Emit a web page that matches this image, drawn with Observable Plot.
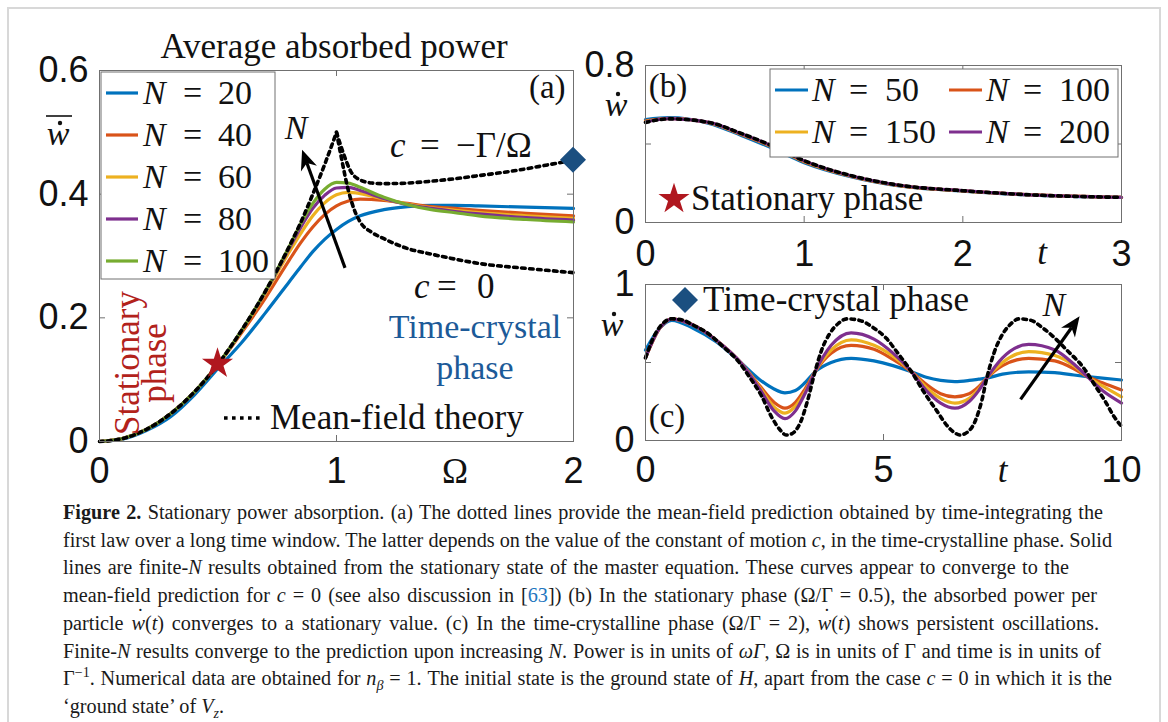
<!DOCTYPE html>
<html><head><meta charset="utf-8">
<script src="https://cdn.jsdelivr.net/npm/d3@7"></script>
<script src="https://cdn.jsdelivr.net/npm/@observablehq/plot@0.6"></script>
<style>
html,body{margin:0;padding:0;background:#fff;width:1168px;height:722px;overflow:hidden;}
#fig{position:relative;width:1168px;height:722px;overflow:hidden;}
#fig svg{position:absolute;left:0;top:0;}
#border{position:absolute;left:7px;top:7px;width:1150px;height:760px;border:2px solid #d8d8d8;}
#caption{position:absolute;left:63px;top:499px;font-family:'Liberation Serif','Times New Roman',serif;font-size:19.5px;line-height:27.7px;white-space:nowrap;color:#1a1a1a;}
#caption sup,#caption sub{line-height:0;font-size:0.7em;}
#caption .ref{color:#1f77c0;}
.ln{display:block;}
.wd{position:relative;}
.wd::after{content:"\02D9";position:absolute;left:0.28em;top:-0.42em;font-style:normal;}
</style></head><body>
<div id="fig"><div id="border"></div>
<div id="caption">
<div class="ln" data-t="1103"><b>Figure 2.</b> Stationary power absorption. (a) The dotted lines provide the mean-field prediction obtained by time-integrating the</div>
<div class="ln" data-t="1112" id="ref2">first law over a long time window. The latter depends on the value of the constant of motion <i>c</i>, in the time-crystalline phase. Solid</div>
<div class="ln" data-t="1069">lines are finite-<i>N</i> results obtained from the stationary state of the master equation. These curves appear to converge to the</div>
<div class="ln" data-t="1097">mean-field prediction for <i>c</i> = 0 (see also discussion in [<span class="ref">63</span>]) (b) In the stationary phase (Ω/Γ = 0.5), the absorbed power per</div>
<div class="ln" data-t="1099">particle <i class="wd">w</i>(<i>t</i>) converges to a stationary value. (c) In the time-crystalline phase (Ω/Γ = 2), <i class="wd">w</i>(<i>t</i>) shows persistent oscillations.</div>
<div class="ln" data-t="1101">Finite-<i>N</i> results converge to the prediction upon increasing <i>N</i>. Power is in units of <i>ωΓ</i>, Ω is in units of Γ and time is in units of</div>
<div class="ln" data-t="1112">Γ<sup>−1</sup>. Numerical data are obtained for <i>n</i><sub><i>β</i></sub> = 1. The initial state is the ground state of <i>H</i>, apart from the case <i>c</i> = 0 in which it is the</div>
<div class="ln">‘ground state’ of <i>V</i><sub><i>z</i></sub>.</div>
</div>
</div>
<script>
// ================= DATA =================
// Panel (a): average absorbed power vs Omega
const omegaGrid = [0,0.1,0.2,0.3,0.4,0.5,0.6,0.7,0.8,0.85,0.9,0.95,1.0,1.05,1.1,1.2,1.3,1.4,1.5,1.6,1.8,2.0];
const wN20  = [0,0.004,0.018,0.04,0.075,0.118,0.16,0.208,0.258,0.283,0.307,0.327,0.343,0.356,0.365,0.375,0.38,0.382,0.382,0.381,0.379,0.377];
const wN40  = [0,0.005,0.02,0.045,0.08,0.124,0.176,0.232,0.293,0.322,0.347,0.367,0.381,0.389,0.392,0.39,0.385,0.38,0.377,0.374,0.369,0.365];
const wN60  = [0,0.005,0.02,0.045,0.08,0.125,0.179,0.24,0.306,0.337,0.365,0.386,0.399,0.403,0.401,0.392,0.384,0.378,0.374,0.37,0.365,0.361];
const wN80  = [0,0.005,0.02,0.045,0.08,0.125,0.18,0.242,0.312,0.347,0.377,0.398,0.41,0.411,0.406,0.393,0.383,0.377,0.372,0.368,0.362,0.358];
const wN100 = [0,0.005,0.02,0.045,0.08,0.125,0.18,0.243,0.315,0.353,0.385,0.408,0.419,0.418,0.411,0.395,0.383,0.375,0.37,0.365,0.359,0.355];
// mean-field: rising part, branch c = -Γ/Ω, branch c = 0
const omegaMF = [0,0.1,0.2,0.3,0.4,0.5,0.6,0.7,0.8,0.85,0.9,0.95,1.0];
const wMF     = [0,0.005,0.02,0.045,0.08,0.125,0.18,0.243,0.315,0.355,0.40,0.448,0.50];
const omegaUp = [1.0,1.03,1.06,1.1,1.15,1.2,1.3,1.4,1.5,1.6,1.7,1.8,1.9,2.0];
const wUp     = [0.50,0.465,0.437,0.423,0.418,0.417,0.418,0.421,0.425,0.43,0.435,0.441,0.448,0.455];
const omegaLow = [1.0,1.02,1.05,1.08,1.1,1.15,1.2,1.3,1.4,1.5,1.6,1.8,2.0];
const wLow     = [0.50,0.46,0.406,0.37,0.355,0.338,0.328,0.312,0.303,0.295,0.288,0.28,0.273];
const legendA = ["20","40","60","80","100"];
const ticksAx = [0,1,2], ticksAy = [0,0.2,0.4,0.6];
const labelsAy = ["0","0.2","0.4","0.6"];

// Panel (b): stationary phase, w-dot(t)
const tGridB = [0,0.15,0.4,0.6,0.8,1.0,1.3,1.6,2.0,2.4,3.0];
const bN50  = [0.525,0.535,0.505,0.445,0.378,0.305,0.232,0.186,0.16,0.141,0.128];
const bN100 = [0.518,0.531,0.508,0.45,0.385,0.31,0.235,0.188,0.161,0.142,0.128];
const bN150 = [0.514,0.53,0.509,0.452,0.387,0.312,0.236,0.189,0.161,0.142,0.128];
const bN200 = [0.512,0.529,0.51,0.454,0.389,0.314,0.237,0.19,0.162,0.142,0.128];
const bMF   = [0.51,0.528,0.51,0.455,0.39,0.315,0.238,0.19,0.162,0.142,0.128];
const legendB = ["50","100","150","200"];
const ticksBx = [0,1,2,3], ticksBy = [0,0.4,0.8];

// Panel (c): time-crystal phase, w-dot(t)
const tGridC = [0,0.3,0.55,1.0,1.5,2.0,2.4,2.7,2.93,3.15,3.35,3.56,3.9,4.32,4.8,5.2,5.59,5.9,6.2,6.5,6.8,7.0,7.17,7.5,8.05,8.6,9.0,9.28,9.6,10];
const cN50  = [0.58,0.72,0.77,0.72,0.63,0.50,0.39,0.33,0.305,0.32,0.37,0.44,0.50,0.527,0.51,0.48,0.44,0.405,0.385,0.378,0.385,0.393,0.40,0.425,0.44,0.435,0.42,0.41,0.40,0.388];
const cN100 = [0.53,0.72,0.78,0.74,0.64,0.50,0.35,0.245,0.207,0.245,0.33,0.44,0.56,0.61,0.585,0.52,0.44,0.36,0.30,0.28,0.30,0.345,0.40,0.48,0.527,0.51,0.46,0.41,0.37,0.324];
const cN150 = [0.53,0.72,0.78,0.74,0.64,0.50,0.34,0.215,0.175,0.22,0.31,0.44,0.58,0.645,0.61,0.54,0.44,0.34,0.27,0.24,0.27,0.33,0.40,0.50,0.57,0.545,0.48,0.41,0.35,0.28];
const cN200 = [0.53,0.72,0.78,0.74,0.64,0.50,0.33,0.19,0.14,0.19,0.30,0.44,0.61,0.69,0.65,0.56,0.44,0.32,0.24,0.207,0.25,0.32,0.40,0.53,0.616,0.58,0.49,0.41,0.32,0.24];
const tMFC = [0,0.2,0.4,0.55,0.8,1.0,1.3,1.6,1.97,2.2,2.43,2.65,2.85,2.95,3.05,3.26,3.4,3.56,3.7,3.86,4.05,4.24,4.5,4.8,5.06,5.3,5.59,5.85,6.12,6.35,6.52,6.61,6.72,6.92,7.06,7.17,7.32,7.48,7.65,7.85,8.1,8.35,8.53,8.85,9.21,9.45,9.66,9.85,10];
const cMF  = [0.53,0.68,0.76,0.78,0.77,0.74,0.69,0.61,0.50,0.40,0.29,0.15,0.06,0.035,0.04,0.12,0.25,0.44,0.58,0.68,0.75,0.78,0.77,0.72,0.655,0.56,0.44,0.31,0.19,0.09,0.045,0.035,0.045,0.12,0.25,0.40,0.56,0.67,0.74,0.78,0.77,0.72,0.676,0.58,0.463,0.35,0.25,0.15,0.09];
const ticksCx = [0,5,10], ticksCy = [0,0.5,1];

// ================= STYLE =================
const SERIF = "'Liberation Serif','Times New Roman',serif";
const SANS = "'Liberation Sans',Arial,Helvetica,sans-serif";
const FRAME = "#707070";
const COLORS = ["#0072BD","#D95319","#EDB120","#7E2F8E","#77AC30"];
const W = 1168, H = 500;
const TICKFS = 36, SERFS = 35;

const xy = (xs, ys) => xs.map((x, i) => ({x, y: ys[i]}));
const solid = (c) => ({x: "x", y: "y", stroke: c, strokeWidth: 3.2, curve: "monotone-x"});
const dotted = {x: "x", y: "y", stroke: "#000", strokeWidth: 3.6, strokeDasharray: "3.6,4.4", curve: "monotone-x"};

function frameMarks(xT, yT, fw, fh) {
  return [
    Plot.frame({stroke: FRAME, strokeWidth: 1}),
    Plot.ruleX(xT, {stroke: FRAME, insetTop: fh - 6}),
    Plot.ruleX(xT, {stroke: FRAME, insetBottom: fh - 6}),
    Plot.ruleY(yT, {stroke: FRAME, insetRight: fw - 6}),
    Plot.ruleY(yT, {stroke: FRAME, insetLeft: fw - 6})
  ];
}
function xLabels(vals, labs, y0, dy) {
  return Plot.text(vals, {x: d => d, y: () => y0, dy, text: (d, i) => labs[i], fontSize: TICKFS, fontFamily: SANS, fill: "#111"});
}
function yLabels(vals, labs, x0, dx) {
  return Plot.text(vals, {x: () => x0, y: d => d, dx, text: (d, i) => labs[i], textAnchor: "end", fontSize: TICKFS, fontFamily: SANS, fill: "#111"});
}
function panel(box, xd, yd, marks) {
  const svg = Plot.plot({
    width: W, height: H,
    marginLeft: box.l, marginRight: W - box.r, marginTop: box.t, marginBottom: H - box.b,
    x: {domain: xd, axis: null}, y: {domain: yd, axis: null},
    style: {background: "transparent", overflow: "visible", fontFamily: SANS},
    marks
  });
  document.getElementById("fig").appendChild(svg);
  return svg;
}
// rich text: parts are [string, italic?, absoluteX?]
function rich(svg, x, y, parts, o = {}) {
  const t = d3.select(svg).append("text")
    .attr("x", x).attr("y", y)
    .attr("font-family", o.family || SERIF).attr("font-size", o.size || SERFS)
    .attr("fill", o.fill || "#111").attr("text-anchor", o.anchor || "start");
  if (o.rotate) t.attr("transform", `rotate(${o.rotate},${x},${y})`);
  for (const p of parts) {
    const s = t.append("tspan").text(p[0]);
    if (p[1]) s.attr("font-style", "italic");
    if (p[2] != null) s.attr("x", p[2]);
  }
  return t;
}
function wdot(svg, x, y, bar) {
  rich(svg, x, y, [["w", true]], {anchor: "middle", size: 34});
  d3.select(svg).append("circle").attr("cx", x + 2).attr("cy", y - 22).attr("r", 2.2).attr("fill", "#111");
  if (bar) d3.select(svg).append("line").attr("x1", x - 12).attr("x2", x + 14).attr("y1", y - 29).attr("y2", y - 29).attr("stroke", "#111").attr("stroke-width", 1.6);
}
function arrow(svg, x1, y1, x2, y2) {
  const g = d3.select(svg).append("g");
  const a = Math.atan2(y2 - y1, x2 - x1), L = 20, Wd = 8.5;
  const bx = x2 - L * Math.cos(a), by = y2 - L * Math.sin(a);
  const nx = x2 - 0.7 * L * Math.cos(a), ny = y2 - 0.7 * L * Math.sin(a);
  g.append("line").attr("x1", x1).attr("y1", y1).attr("x2", nx).attr("y2", ny).attr("stroke", "#000").attr("stroke-width", 3.2);
  const px = -Math.sin(a) * Wd, py = Math.cos(a) * Wd;
  g.append("polygon").attr("points", [[x2, y2], [bx + px, by + py], [nx, ny], [bx - px, by - py]].map(p => p.join(",")).join(" ")).attr("fill", "#000");
}
function star(svg, x, y, size) {
  const g = d3.symbol(d3.symbolStar, size)();
  d3.select(svg).append("path").attr("d", g).attr("transform", `translate(${x},${y})`).attr("fill", "#B0171F");
}
function diamond(svg, x, y, r) {
  d3.select(svg).append("path").attr("d", `M${x},${y - r}L${x + r},${y}L${x},${y + r}L${x - r},${y}Z`).attr("fill", "#1B4F80");
}

// ================= PANEL (a) =================
const A = {l: 99, r: 573, t: 70, b: 441};
const seriesA = [wN20, wN40, wN60, wN80, wN100];
const svgA = panel(A, [0, 2], [0, 0.6], [
  ...seriesA.map((s, i) => Plot.line(xy(omegaGrid, s), solid(COLORS[i]))),
  Plot.line(xy(omegaMF, wMF), dotted),
  Plot.line(xy(omegaUp, wUp), dotted),
  Plot.line(xy(omegaLow, wLow), dotted),
  ...frameMarks(ticksAx, ticksAy, A.r - A.l, A.b - A.t),
  xLabels(ticksAx, ["0", "1", "2"], 0, 30),
  yLabels(ticksAy, labelsAy, 0, -11),
  Plot.text(["Ω"], {x: () => 1.5, y: () => 0, dy: 30, text: d => d, fontSize: SERFS, fontFamily: SERIF, fill: "#111"})
]);
{
  const sx = v => svgA.scale("x").apply(v), sy = v => svgA.scale("y").apply(v);
  const s = d3.select(svgA);
  rich(svgA, 334, 58, [["Average absorbed power"]], {anchor: "middle"});
  // legend
  s.append("rect").attr("x", 101).attr("y", 72).attr("width", 174).attr("height", 207).attr("fill", "#fff").attr("stroke", FRAME);
  legendA.forEach((n, i) => {
    const y = 93 + i * 42;
    s.append("line").attr("x1", 106).attr("x2", 138).attr("y1", y).attr("y2", y).attr("stroke", COLORS[i]).attr("stroke-width", 3.2);
    rich(svgA, 143, y + 11, [["N", true], ["=", false, 183], [n, false, 218]], {size: 34});
  });
  rich(svgA, sx(1.9) - 2, 98, [["(a)"]], {anchor: "middle", size: 33});
  // mean-field legend sample
  s.append("line").attr("x1", 224).attr("x2", 262).attr("y1", 418).attr("y2", 418).attr("stroke", "#000").attr("stroke-width", 3.6).attr("stroke-dasharray", "3.6,4.4");
  rich(svgA, 270, 429, [["Mean-field theory"]]);
  rich(svgA, 390, 157, [["c", true], ["=", false, 420], ["−Γ/Ω", false, 456]]);
  rich(svgA, 414, 298, [["c", true], ["=", false, 437], ["0", false, 477]]);
  rich(svgA, 475, 338, [["Time-crystal"]], {anchor: "middle", fill: "#1C5A98", size: 34});
  rich(svgA, 475, 379, [["phase"]], {anchor: "middle", fill: "#1C5A98", size: 34});
  rich(svgA, 139, 363, [["Stationary"]], {anchor: "middle", fill: "#B2221B", rotate: -90});
  rich(svgA, 166, 363, [["phase"]], {anchor: "middle", fill: "#B2221B", rotate: -90});
  rich(svgA, 296, 139, [["N", true]], {anchor: "middle", size: 34});
  arrow(svgA, sx(1.038), sy(0.28), sx(0.857), sy(0.471));
  star(svgA, sx(0.5), sy(0.125), 300);
  diamond(svgA, sx(2), sy(0.455), 13);
  wdot(svgA, 58, 145, true);
}

// ================= PANEL (b) =================
const B = {l: 645, r: 1121, t: 65, b: 222};
const seriesB = [bN50, bN100, bN150, bN200];
const svgB = panel(B, [0, 3], [0, 0.8], [
  ...seriesB.map((s, i) => Plot.line(xy(tGridB, s), solid(COLORS[i]))),
  Plot.line(xy(tGridB, bMF), dotted),
  ...frameMarks(ticksBx, ticksBy, B.r - B.l, B.b - B.t),
  xLabels(ticksBx, ["0", "1", "2", "3"], 0, 32),
  yLabels([0, 0.8], ["0", "0.8"], 0, -11),
  Plot.text(["t"], {x: () => 2.5, y: () => 0, dy: 30, text: d => d, fontSize: SERFS, fontFamily: SERIF, fontStyle: "italic", fill: "#111"})
]);
{
  const s = d3.select(svgB);
  s.append("rect").attr("x", 770).attr("y", 69).attr("width", 348).attr("height", 88).attr("fill", "#fff").attr("stroke", FRAME);
  legendB.forEach((n, i) => {
    const col = i % 2, row = Math.floor(i / 2);
    const x0 = col ? 949 : 775, y = 90 + row * 42;
    s.append("line").attr("x1", x0).attr("x2", x0 + 33).attr("y1", y).attr("y2", y).attr("stroke", COLORS[i]).attr("stroke-width", 3.2);
    const tx = x0 + 37;
    rich(svgB, tx, y + 11, [["N", true], ["=", false, tx + 37], [n, false, tx + 73]], {size: 34});
  });
  rich(svgB, 668, 97, [["(b)"]], {anchor: "middle", size: 33});
  star(svgB, 674, 199, 300);
  rich(svgB, 691, 210, [["Stationary phase"]]);
  wdot(svgB, 616, 116, false);
}

// ================= PANEL (c) =================
const C = {l: 645, r: 1121, t: 284, b: 440};
const seriesC = [cN50, cN100, cN150, cN200];
const svgC = panel(C, [0, 10], [0, 1], [
  ...seriesC.map((s, i) => Plot.line(xy(tGridC, s), solid(COLORS[i]))),
  Plot.line(xy(tMFC, cMF), dotted),
  ...frameMarks(ticksCx, ticksCy, C.r - C.l, C.b - C.t),
  xLabels(ticksCx, ["0", "5", "10"], 0, 30),
  yLabels([0, 1], ["0", "1"], 0, -11),
  Plot.text(["t"], {x: () => 7.5, y: () => 0, dy: 30, text: d => d, fontSize: SERFS, fontFamily: SERIF, fontStyle: "italic", fill: "#111"})
]);
{
  const sx = v => svgC.scale("x").apply(v), sy = v => svgC.scale("y").apply(v);
  rich(svgC, 667, 427, [["(c)"]], {anchor: "middle", size: 33});
  diamond(svgC, 685, 300, 13);
  rich(svgC, 703, 311, [["Time-crystal phase"]]);
  rich(svgC, sx(8.59), 316, [["N", true]], {anchor: "middle", size: 34});
  arrow(svgC, sx(7.89), sy(0.26), sx(9.13), sy(0.793));
  wdot(svgC, 612, 336, false);
}

// ================= CAPTION fit =================
{
  const cap = document.getElementById("caption");
  const widthOf = el => { const r = document.createRange(); r.selectNodeContents(el); return r.getBoundingClientRect().width; };
  const probe = document.getElementById("ref2");
  const fs = 19.5 * (1112 - 63) / widthOf(probe);
  cap.style.fontSize = Math.max(17, Math.min(22, fs)) + "px";
  document.querySelectorAll("#caption .ln").forEach(el => {
    const t = +el.dataset.t;
    if (!t) return;
    const w = widthOf(el);
    const spaces = (el.textContent.match(/ /g) || []).length;
    if (spaces) el.style.wordSpacing = ((t - 63 - w) / spaces) + "px";
  });
}
</script>
</body></html>
